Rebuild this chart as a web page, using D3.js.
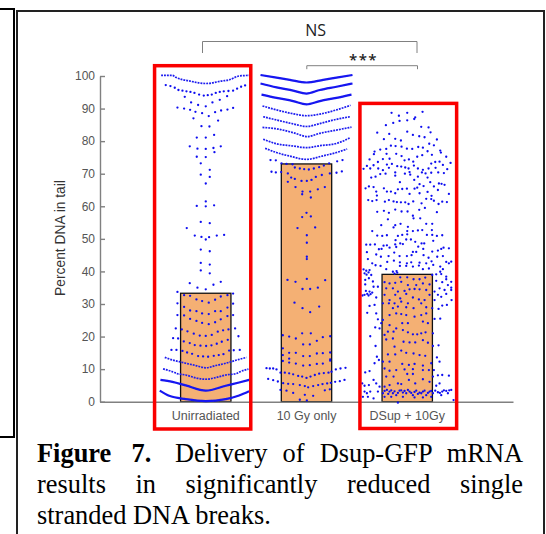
<!DOCTYPE html>
<html>
<head>
<meta charset="utf-8">
<script src="https://d3js.org/d3.v7.min.js"></script>
<style>
  html, body { margin: 0; padding: 0; background: #fff; }
  svg { display: block; }
  .axis text { font-family: "Liberation Sans", sans-serif; fill: #555; }
  .axis path, .axis line { stroke: #808080; stroke-width: 1.4; }
</style>
</head>
<body>
<div id="chart"></div>
<script>
const categories = ['Unirradiated', '10 Gy only', 'DSup + 10Gy'];
const meanTail = [33.3, 73, 39.1];
const yTicks = [0, 10, 20, 30, 40, 50, 60, 70, 80, 90, 100];

// every swarm point is [sideways spread, percent DNA in tail]
// the rows are so dense in the picture that they read as lines
const unirradiatedSolid = [
  [[-136, 6.7], [-100, 6.1], [-60, 5.0], [0, 3.4], [60, 4.9], [100, 5.9], [130, 6.7]],
  [[-138, 3.4], [-110, 1.8], [-60, 0.8], [0, 0.2], [60, 0.8], [100, 1.9], [130, 3.2]]
];
const unirradiatedDotted = [
  [[-134, 100.2], [-100, 100.2], [-90, 99.6], [-50, 98.5], [0, 97.7], [50, 98.5], [70, 98.8], [100, 100], [132, 100.2]],
  [[-123, 13.6], [-100, 12.8], [-80, 12.3], [-60, 11.8], [-30, 11.1], [0, 10.4], [30, 11.1], [60, 11.8], [80, 12.4], [100, 13.0], [122, 13.6]],
  [[-128, 10.1], [-100, 9.2], [-85, 8.6], [-60, 8.2], [-30, 7.3], [0, 6.9], [30, 7.4], [60, 8.2], [90, 8.6], [110, 9.5], [128, 10.0]]
];
const unirradiatedPoints = [
  [-120, 97.2], [-106, 96.9], [-93, 96.4], [-82, 95.7], [-70, 95.5], [-58, 95.3], [-46, 95.1], [-34, 94.8], [-20, 94.3], [-6, 94.0], [6, 94.1], [18, 94.3], [30, 94.8], [42, 95.1], [54, 95.3], [68, 95.4], [82, 95.5], [94, 96.1], [106, 96.7], [118, 97.1],
  [-63, 93.6], [64, 93.8], [42, 92.7], [20, 91.9], [-44, 91.9], [-23, 91.1], [0, 90.7],
  [-85, 90.3], [-65, 90.0], [-47, 89.6], [-31, 89.0], [-11, 88.6], [9, 87.7], [28, 88.9], [46, 89.4], [65, 89.7], [82, 90.2],
  [-37, 87.0], [37, 86.3], [-13, 84.6], [11, 84.5], [-27, 81.1], [0, 81.1], [25, 81.9],
  [-48, 78.4], [-25, 77.7], [0, 77.6], [23, 77.9], [45, 78.4], [26, 76.6], [-27, 75.2], [0, 75.1], [-15, 73.2], [12, 71.2], [-15, 69.7], [12, 69.0], [0, 67.0],
  [-27, 60.1], [0, 61.5], [0, 60.0], [25, 60.3], [-15, 55.2], [12, 54.8], [-57, 53.3],
  [-33, 51.0], [-13, 50.6], [0, 49.8], [10, 50.5], [33, 51.0], [55, 51.2], [-15, 46.7], [12, 46.2], [-15, 42.6], [12, 42.1], [-15, 40.3], [12, 39.4],
  [-48, 36.4], [-25, 35.0], [0, 34.5], [23, 35.9], [45, 36.8],
  [-85, 33.7], [-65, 32.7], [-47, 32.5], [-28, 31.4], [-11, 30.9], [9, 30.4], [28, 31.3], [45, 32.3], [65, 32.7], [82, 33.2],
  [-85, 30.2], [-65, 29.1], [-47, 28.0], [-28, 27.8], [-11, 27.1], [9, 26.9], [28, 27.8], [45, 27.8], [65, 28.9], [82, 30.1],
  [-85, 26.6], [-65, 26.5], [-47, 25.4], [-28, 24.8], [-11, 24.2], [9, 23.8], [28, 24.4], [45, 25.3], [65, 26.3], [82, 26.6],
  [-90, 22.5], [-72, 22.2], [-55, 21.6], [-36, 20.9], [-18, 20.3], [0, 20.2], [18, 20.5], [36, 21.5], [52, 21.9], [68, 22.2], [88, 22.5],
  [-98, 19.5], [-83, 19.4], [-66, 18.5], [-48, 18.0], [-33, 17.4], [-16, 17.2], [1, 17.1], [17, 17.3], [33, 17.8], [48, 18.4], [66, 19.0], [98, 20.1],
  [-103, 15.9], [-88, 15.9], [-70, 15.6], [-56, 15.1], [-41, 14.7], [-23, 14.0], [-8, 13.9], [7, 13.8], [24, 14.1], [39, 14.3], [53, 14.6], [70, 15.7], [84, 15.8], [102, 15.9]
];

const tenGySolid = [
  [[-138, 100.3], [-90, 99.5], [-50, 98.8], [0, 98.0], [50, 98.8], [90, 99.5], [138, 100.3]],
  [[-138, 97.7], [-90, 96.5], [-40, 95.5], [0, 94.6], [40, 95.7], [90, 96.7], [138, 97.7]],
  [[-135, 94.3], [-90, 93.3], [-40, 92.3], [0, 91.3], [40, 92.3], [90, 93.3], [135, 94.3]]
];
const tenGyDotted = [
  [[-132, 90.8], [-90, 89.6], [-40, 88.4], [0, 87.8], [40, 88.3], [90, 89.6], [132, 91.0]],
  [[-130, 87.5], [-90, 86.5], [-40, 85.3], [0, 84.5], [40, 85.4], [90, 86.7], [130, 87.5]],
  [[-132, 84.2], [-90, 83.8], [-40, 82.6], [3, 81.4], [40, 82.4], [90, 83.4], [135, 84.3]],
  [[-130, 80.6], [-90, 79.2], [-40, 78.5], [0, 78.0], [40, 78.6], [90, 79.3], [130, 81.0]],
  [[-124, 77.8], [-90, 76.5], [-50, 75.4], [0, 74.4], [50, 75.5], [90, 76.5], [122, 77.6]]
];
const tenGyPoints = [
  [-108, 74.2], [-92, 74.1], [-75, 73.2], [-60, 73.0], [-42, 72.9], [-35, 71.9], [-20, 71.6], [-7, 71.4], [7, 71.3], [22, 71.6], [38, 72.0], [52, 72.5], [68, 73.2], [92, 73.8], [108, 74.2],
  [-105, 70.6], [-92, 70.4], [-76, 70.5], [-56, 70.1], [-46, 68.8], [-56, 67.5], [-35, 68.4], [-15, 67.8], [1, 67.8], [15, 68.1], [28, 69.0], [46, 69.6], [70, 70.1], [90, 70.3], [106, 70.7],
  [-33, 65.9], [-12, 64.5], [11, 64.5], [34, 65.2], [55, 65.9], [-13, 63.7], [13, 62.7], [-13, 56.7], [0, 58.0], [13, 56.9],
  [-27, 53.3], [26, 53.5], [1, 51.1], [1, 48.8], [1, 44.5], [1, 43.8],
  [-57, 37.4], [-33, 36.8], [1, 37.7], [56, 37.3], [-12, 34.6], [11, 34.6], [34, 35.0], [-36, 30.4], [-12, 28.7], [11, 27.5], [38, 29.2],
  [-71, 20.4], [-52, 20.0], [-32, 19.4], [-13, 21.0], [13, 21.0], [31, 18.7], [49, 19.8], [71, 20.1], [-10, 17.6], [10, 17.6], [-71, 16.4],
  [-71, 14.3], [-52, 15.0], [-32, 15.0], [-52, 13.2], [-10, 14.0], [10, 14.0], [31, 14.8], [49, 14.9], [71, 15.1], [71, 13.0],
  [-71, 12.5], [-52, 12.0], [-32, 11.7], [-10, 11.1], [10, 11.2], [31, 11.6], [49, 11.7], [71, 12.6],
  [-120, 10.3], [-110, 10.2], [-100, 10.2], [-90, 9.9], [-78, 8.9], [-65, 8.9], [-52, 8.7], [-40, 8.4], [-25, 7.9], [-13, 7.7], [0, 7.3], [12, 7.7], [25, 8.2], [38, 8.6], [52, 8.8], [66, 8.9], [75, 9.2], [88, 9.9], [102, 10.2], [117, 10.4],
  [-115, 7.0], [-100, 6.6], [-86, 6.2], [-70, 5.7], [-55, 5.5], [-40, 5.4], [-20, 5.1], [-5, 4.8], [5, 4.4], [20, 4.8], [35, 5.1], [48, 5.4], [62, 5.6], [73, 5.8], [86, 6.1], [100, 6.3], [114, 6.7],
  [-78, 3.6], [-60, 3.4], [-40, 2.7], [-5, 2.1], [20, 1.8], [-20, 0.6], [1, 0.4], [55, 3.5], [70, 3.8]
];

const dsupPoints = [
  [-47, 88.7], [-25, 87.8], [0, 88.7], [46, 89.0], [24, 87.3], [21, 86.8], [-23, 86.2], [0, 86.4], [-42, 85.6], [-64, 84.9], [42, 84.4], [64, 84.2],
  [-90, 82.6], [0, 82.9], [70, 82.7], [-54, 82.2], [17, 81.9], [36, 81.5], [-70, 80.6], [-36, 80.7], [-19, 80.2], [52, 81.2], [89, 80.5], [66, 79.2], [80, 78.7],
  [-49, 78.6], [-35, 78.5], [-17, 78.3], [-81, 77.4], [-63, 77.6], [-98, 76.8], [-100, 76.0], [-1, 77.7], [15, 77.6], [33, 78.2], [47, 78.0], [61, 76.9], [99, 77.1], [101, 76.5],
  [-62, 76.1], [-33, 76.1], [-17, 75.4], [45, 75.7], [30, 75.2], [74, 75.8], [-113, 74.4], [-88, 73.6], [-73, 74.5], [-53, 74.6], [-8, 74.1], [18, 73.7], [5, 74.4], [97, 73.7], [117, 75.2], [130, 73.3], [84, 73.6], [72, 73.1],
  [-121, 72.4], [-101, 72.6], [-131, 71.5], [-111, 71.6], [-87, 71.6], [-61, 72.8], [-46, 73.0], [-30, 72.3], [-18, 72.2], [-6, 71.9], [4, 71.6], [20, 72.5], [32, 71.6], [47, 71.2], [64, 71.6], [85, 71.8], [120, 71.4], [107, 72.7],
  [-73, 71.1], [-55, 71.8], [7, 70.5], [-7, 70.0], [-36, 70.4], [-65, 70.0], [-81, 69.9], [-95, 69.1], [-108, 68.8], [-36, 69.4], [9, 69.7], [21, 68.1], [44, 70.4], [55, 70.1], [72, 70.3], [93, 70.4], [110, 70.2], [32, 69.1], [61, 68.8],
  [69, 67.4], [37, 66.8], [-22, 67.4], [95, 67.0], [103, 66.9], [112, 66.6], [80, 66.1], [49, 66.2], [30, 65.7], [22, 65.4], [-1, 65.4], [-15, 65.3], [-28, 65.2], [-70, 65.5], [-115, 66.1], [-101, 65.9], [-125, 65.5],
  [-93, 64.5], [-61, 64.5], [-49, 64.5], [-36, 64.0], [-91, 63.3], [7, 63.8], [37, 64.0], [61, 64.4], [92, 65.0], [125, 63.8], [73, 63.2], [57, 62.3], [72, 62.2],
  [-117, 61.9], [-105, 61.6], [-92, 61.9], [-67, 61.4], [-55, 61.9], [-41, 61.5], [-31, 61.3], [-19, 61.2], [-6, 61.2], [4, 60.7], [18, 61.5], [43, 60.9], [80, 61.7], [94, 60.7], [105, 61.4], [119, 61.3],
  [53, 59.5], [36, 58.9], [-90, 58.3], [-70, 58.6], [-55, 58.0], [-36, 59.0], [-17, 58.4], [1, 58.4], [17, 57.1], [89, 58.2], [19, 56.3], [39, 56.3], [-58, 56.0],
  [-78, 54.2], [-41, 53.5], [-36, 54.2], [-20, 54.6], [2, 53.7], [75, 54.6], [57, 54.6], [-105, 52.4], [0, 52.4], [17, 52.4], [32, 52.6], [45, 52.7], [74, 52.7],
  [-90, 51.0], [-75, 50.9], [-61, 51.1], [-28, 50.9], [-15, 51.2], [0, 51.4], [59, 51.2], [75, 51.2], [89, 50.9], [105, 51.1],
  [-35, 49.6], [-21, 48.6], [-3, 49.8], [11, 49.8], [24, 49.1], [51, 48.6], [78, 49.4], [-123, 48.2], [-111, 48.2], [-97, 48.3], [-71, 47.9], [-61, 48.0], [-36, 48.3], [-13, 48.4], [33, 47.6], [43, 48.6],
  [-121, 45.9], [-85, 46.8], [-77, 46.9], [-53, 47.3], [-33, 47.5], [102, 46.9], [92, 46.4], [109, 47.3], [125, 47.1], [75, 46.1], [48, 46.9], [17, 46.0],
  [-93, 45.2], [-79, 44.5], [-56, 44.7], [-39, 45.8], [-23, 44.7], [-1, 44.7], [13, 45.0], [27, 46.0], [49, 45.0], [64, 44.2], [90, 44.5], [107, 44.7],
  [-118, 43.8], [-105, 42.5], [-95, 41.9], [-60, 42.9], [-40, 43.3], [-22, 42.8], [-1, 42.5], [12, 42.8], [37, 42.7], [57, 42.5], [73, 43.1], [117, 42.9], [132, 43.0], [125, 42.5],
  [-131, 40.6], [-123, 40.2], [-113, 40.4], [-80, 41.7], [-63, 40.7], [-43, 39.9], [-32, 40.1], [-22, 41.7], [-3, 41.7], [17, 41.5], [35, 41.8], [47, 40.7], [65, 40.9], [78, 42.0], [99, 41.5], [99, 39.9], [107, 40.7],
  [-128, 39.4], [-108, 38.9], [-38, 39.3], [-30, 39.6], [75, 38.9], [87, 39.1], [102, 39.2], [117, 38.4], [-122, 39.0], [-116, 39.7],
  [-126, 37.4], [-115, 37.9], [-126, 36.0], [-103, 36.9], [87, 37.1], [105, 36.7], [132, 36.8], [117, 37.6], [132, 35.0], [122, 35.8],
  [-101, 35.3], [-88, 35.3], [-68, 36.7], [-53, 36.3], [-36, 36.5], [-21, 38.2], [0, 38.2], [19, 37.6], [37, 37.6], [54, 38.1], [-18, 36.8], [2, 35.8], [27, 35.8], [47, 36.3], [67, 36.0],
  [-113, 33.8], [-128, 32.8], [-120, 33.1], [-105, 33.5], [-93, 32.0], [-63, 34.8], [-43, 34.8], [-28, 33.8], [-8, 34.0], [7, 34.5], [22, 34.6], [37, 34.5], [57, 34.3], [82, 33.8], [97, 34.8], [112, 34.3], [92, 32.8], [102, 32.2], [117, 33.1], [132, 34.3], [-134, 32.6], [-124, 34.0], [-116, 32.6], [-110, 33.0],
  [-68, 32.8], [-53, 31.2], [-36, 32.8], [-21, 31.7], [-3, 33.1], [17, 32.0], [35, 31.4], [52, 31.2], [67, 32.8], [-73, 30.2], [-55, 30.2], [-38, 30.2], [-18, 30.7], [2, 30.2], [19, 28.7], [42, 30.2], [57, 29.0], [75, 28.7], [94, 28.5], [105, 29.5], [119, 29.7], [133, 31.2], [82, 31.2],
  [-113, 29.4], [-120, 27.3], [-98, 29.7], [-93, 27.1], [-43, 28.7], [-28, 29.2], [-3, 29.0],
  [-88, 25.3], [-73, 25.1], [-53, 26.6], [-33, 27.1], [-18, 26.9], [-3, 26.6], [22, 26.1], [42, 26.6], [57, 27.1], [82, 25.4], [99, 25.5], [-78, 24.1], [-53, 23.5], [-33, 22.5], [-15, 24.1], [2, 24.1], [47, 24.6], [62, 24.1],
  [-96, 22.8], [-83, 22.5], [-58, 21.5], [-41, 21.5], [-13, 22.0], [2, 21.3], [17, 20.7], [30, 20.7], [42, 21.0], [55, 21.3], [-111, 20.1], [-68, 20.5], [77, 21.0],
  [-63, 19.1], [-43, 19.4], [-11, 18.4], [7, 18.2], [24, 18.2], [47, 18.9], [62, 18.1], [77, 17.1], [94, 17.3], [-95, 17.1], [-38, 16.9], [-18, 15.7], [-3, 15.0], [19, 14.8], [37, 14.3], [54, 14.1], [-58, 14.5], [-36, 14.5], [-91, 13.8], [89, 13.6],
  [-53, 12.3], [-73, 12.3], [-98, 11.8], [97, 12.3], [-15, 11.6], [5, 11.3], [22, 11.6], [47, 11.1], [72, 11.8], [-85, 12.8],
  [-126, 9.0], [-113, 9.4], [-68, 10.2], [-53, 9.5], [-33, 9.7], [-8, 9.9], [17, 10.0], [17, 8.5], [0, 8.5], [47, 9.7], [65, 9.7], [80, 9.7], [92, 8.1], [105, 8.2], [125, 8.0], [77, 7.7],
  [-135, 5.6], [-128, 4.9], [-115, 5.1], [-101, 6.7], [-93, 5.6], [-83, 4.6], [-63, 7.7], [-41, 7.7], [-28, 5.6], [-18, 5.4], [5, 6.7], [24, 5.6], [47, 6.9], [67, 6.1], [97, 5.6], [87, 4.9], [-53, 5.1], [-68, 4.6],
  [-128, 3.1], [-121, 2.6], [-111, 3.1], [-133, 1.5], [-101, 1.0], [-88, 3.1], [-73, 2.6], [-61, 3.6], [-53, 3.1], [-43, 2.6], [-33, 2.0], [-23, 3.4], [-13, 2.8], [-3, 2.6], [7, 3.1], [17, 2.0], [27, 3.4], [37, 2.8], [47, 3.1], [57, 2.0], [67, 3.1], [77, 2.6], [92, 2.9], [105, 3.1], [117, 3.3], [132, 3.6], [122, 2.6], [102, 2.0],
  [-118, 1.5], [-68, 1.5], [-48, 1.5], [-13, 1.5], [22, 1.3], [47, 1.3], [72, 1.5], [139, 0.5], [-28, -0.3],
  [-68, 3.3], [-57, 2.4], [-48, 3.5], [-38, 3.2], [-28, 2.7], [-18, 3.5], [-8, 3.3], [2, 3.6], [12, 2.7], [22, 3.0], [32, 2.4], [42, 2.6], [52, 3.4], [62, 2.7], [72, 3.3], [84, 3.4], [98, 2.7], [110, 3.5], [126, 3.5]
];

const captionBold = 'Figure 7.';
const captionLines = ['Delivery of Dsup-GFP mRNA', 'results in significantly reduced single', 'stranded DNA breaks.'];

const groups = categories.map((name, i) => ({
  name,
  mean: meanTail[i],
  points: [unirradiatedPoints, tenGyPoints, dsupPoints][i],
  solid: [unirradiatedSolid, tenGySolid, []][i],
  dotted: [unirradiatedDotted, tenGyDotted, []][i]
}));

const width = 546, height = 534;

const svg = d3.select('#chart').append('svg')
  .attr('width', width)
  .attr('height', height);

svg.append('rect').attr('width', width).attr('height', height).attr('fill', '#fff');

// the reference is a soft screenshot, the marks need a little blur
svg.append('filter')
  .attr('id', 'soft')
  .append('feGaussianBlur')
  .attr('stdDeviation', 0.3);

// page frames behind the figure
const frames = [
  'M0,9H14V437H0',
  'M17,534V11H544V534'
];
svg.selectAll('.frame')
  .data(frames)
  .enter().append('path')
  .attr('class', 'frame')
  .attr('d', d => d)
  .attr('fill', 'none')
  .attr('stroke', (d, i) => i ? '#222' : '#000')
  .attr('stroke-width', 2);

const xScale = d3.scaleBand()
  .domain(categories)
  .range([100, 513])
  .paddingInner(0.5)
  .paddingOuter(0.8);

const yScale = d3.scaleLinear()
  .domain([0, 100])
  .range([401.7, 76]);

const spread = d3.scaleLinear()
  .domain([-138, 138])
  .range([-46, 46]);

const center = name => xScale(name) + xScale.bandwidth() / 2;

// bars
svg.selectAll('.bar')
  .data(groups)
  .enter().append('rect')
  .attr('class', 'bar')
  .attr('x', d => xScale(d.name))
  .attr('y', d => yScale(d.mean))
  .attr('width', xScale.bandwidth())
  .attr('height', d => yScale(0) - yScale(d.mean))
  .attr('fill', '#f4b074')
  .attr('stroke', '#111')
  .attr('stroke-width', 1.3);

// axes
const yAxis = svg.append('g')
  .attr('class', 'axis')
  .attr('transform', 'translate(100,0)')
  .call(d3.axisLeft(yScale).tickValues(yTicks).tickSize(-5).tickSizeOuter(0).tickPadding(5));
yAxis.selectAll('text').attr('font-size', 12);

const xAxis = svg.append('g')
  .attr('class', 'axis')
  .attr('transform', 'translate(0,' + yScale(0) + ')')
  .call(d3.axisBottom(xScale).tickSize(0).tickPadding(9));
xAxis.selectAll('text').attr('font-size', 12.5);

svg.append('text')
  .attr('transform', 'translate(65,238) rotate(-90)')
  .attr('text-anchor', 'middle')
  .attr('font-family', '"Liberation Sans", sans-serif')
  .attr('font-size', 13.8)
  .attr('fill', '#333')
  .text('Percent DNA in tail');

// swarms
const rowLine = d3.line().curve(d3.curveMonotoneX);

const swarm = svg.selectAll('.swarm')
  .data(groups)
  .enter().append('g')
  .attr('class', 'swarm')
  .attr('filter', 'url(#soft)');

swarm.each(function (g) {
  const cx = center(g.name);
  const toXY = d => [cx + spread(d[0]), yScale(d[1])];
  const sel = d3.select(this);

  sel.selectAll('.solid')
    .data(g.solid)
    .enter().append('path')
    .attr('class', 'solid')
    .attr('d', d => rowLine(d.map(toXY)))
    .attr('fill', 'none')
    .attr('stroke', '#1414f0')
    .attr('stroke-width', 2.2);

  sel.selectAll('.dotted')
    .data(g.dotted)
    .enter().append('path')
    .attr('class', 'dotted')
    .attr('d', d => rowLine(d.map(toXY)))
    .attr('fill', 'none')
    .attr('stroke', '#1c1cf0')
    .attr('stroke-width', 1.7)
    .attr('stroke-dasharray', '1.9,1');

  sel.selectAll('circle')
    .data(g.points)
    .enter().append('circle')
    .attr('cx', d => toXY(d)[0])
    .attr('cy', d => toXY(d)[1])
    .attr('r', 1.15)
    .attr('fill', '#0c0cf0');
});

// red boxes around the first and third groups
const redBoxes = [
  { name: categories[0], left: -51.2, right: 45, top: 65.7, bottom: 429 },
  { name: categories[2], left: -47.3, right: 49.4, top: 103.4, bottom: 428.5 }
];
svg.selectAll('.redbox')
  .data(redBoxes)
  .enter().append('rect')
  .attr('class', 'redbox')
  .attr('x', d => center(d.name) + d.left)
  .attr('y', d => d.top)
  .attr('width', d => d.right - d.left)
  .attr('height', d => d.bottom - d.top)
  .attr('fill', 'none')
  .attr('stroke', '#fa0000')
  .attr('stroke-width', 3.5);

// significance brackets
const bracket = (x1, x2, y, drop) => 'M' + x1 + ',' + (y + drop) + 'V' + y + 'H' + x2 + 'V' + (y + drop);
const brackets = [bracket(202.5, 417, 41.5, 11.5), bracket(306.8, 417.5, 65.7, 3.5)];
svg.selectAll('.bracket')
  .data(brackets)
  .enter().append('path')
  .attr('class', 'bracket')
  .attr('d', d => d)
  .attr('fill', 'none')
  .attr('stroke', '#808080')
  .attr('stroke-width', 1);

svg.append('text')
  .attr('x', 315.7).attr('y', 36)
  .attr('text-anchor', 'middle')
  .attr('font-family', '"Open Sans", sans-serif')
  .attr('font-size', 16)
  .attr('fill', '#222')
  .text('NS');

svg.append('text')
  .attr('x', 363.5).attr('y', 65)
  .attr('text-anchor', 'middle')
  .attr('font-family', '"Open Sans", sans-serif')
  .attr('font-size', 15)
  .attr('font-weight', 600)
  .attr('letter-spacing', 1.5)
  .attr('fill', '#222')
  .text('***');

// caption, stretched by hand to get the justified look
const capLeft = 37, capRight = 523, capIndent = 175;
const capBase = [461.5, 493, 524];
const capSize = 26.4;
const captionFont = '"Liberation Serif", serif';

function captionRow(text, x, y, right) {
  const row = svg.append('text')
    .attr('x', x).attr('y', y)
    .attr('font-family', captionFont).attr('font-size', capSize).attr('fill', '#000')
    .text(text);
  if (right) {
    const len = row.node().getComputedTextLength();
    row.attr('word-spacing', (right - x - len) / (text.split(' ').length - 1));
  }
  return row;
}

captionRow(captionBold, capLeft, capBase[0], 146).attr('font-weight', 'bold');
captionRow(captionLines[0], capIndent, capBase[0], capRight);
captionRow(captionLines[1], capLeft, capBase[1], capRight);
captionRow(captionLines[2], capLeft, capBase[2]);
</script>
</body>
</html>
